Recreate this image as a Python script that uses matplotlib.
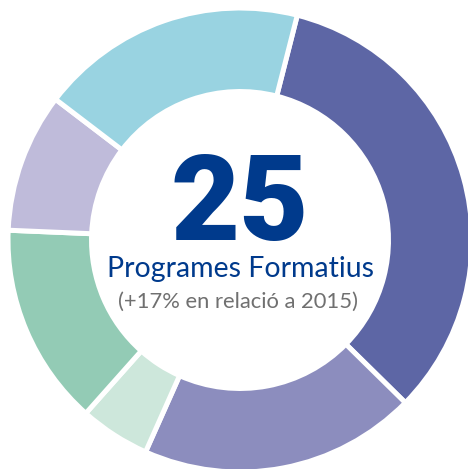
import matplotlib
matplotlib.use("Agg")
import matplotlib.pyplot as plt

# Share of each segment, clockwise from the top
shares = [33.4, 19.3, 4.9, 14.1, 9.7, 18.6]
colors = ["#5D66A5", "#8C8DBE", "#CDE7DB", "#93CBB5", "#BFBBDA", "#99D3E1"]

total = "25"
title = "Programes Formatius"
subtitle = "(+17% en relació a 2015)"

fig = plt.figure(figsize=(4.68, 4.69), dpi=100)
ax = fig.add_axes([0, 0, 1, 1])

ax.pie(shares, colors=colors, startangle=90 - 14.3, counterclock=False,
       radius=1.0,
       wedgeprops=dict(width=0.36, edgecolor="white", linewidth=3.6))

# center at (240, 240) px from top-left, outer radius 232 px
ax.set_xlim(-240 / 232, (468 - 240) / 232)
ax.set_ylim(-(469 - 240) / 232, 240 / 232)
ax.set_aspect("auto")
ax.axis("off")

ax.text(0, 0, total, ha="center", va="baseline", fontsize=86, fontweight="heavy",
        color="#003A8C", family=["Roboto", "DejaVu Sans"])
ax.text(0, -0.159, title, ha="center", va="baseline", fontsize=20.5,
        color="#003A8C", family=["Lato", "DejaVu Sans"])
ax.text(-0.01, -0.293, subtitle, ha="center", va="baseline", fontsize=15.8,
        color="#707070", family=["Lato", "DejaVu Sans"])

fig.savefig("out.png", dpi=100, facecolor="white")
